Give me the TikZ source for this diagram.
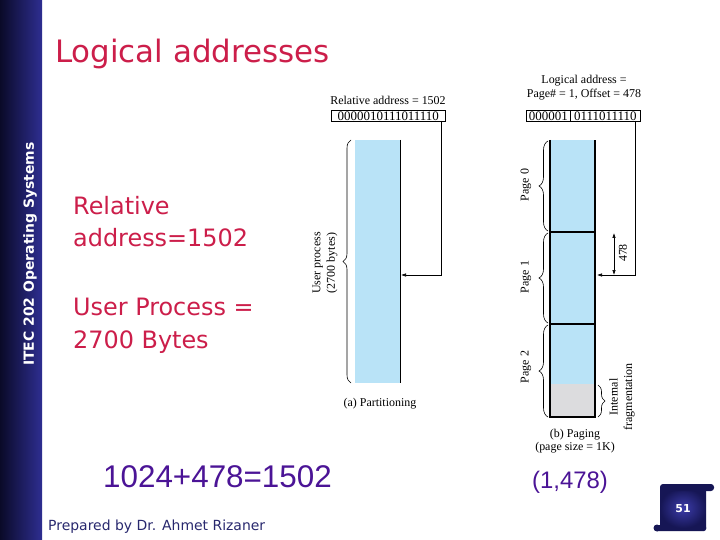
\documentclass[tikz,border=0pt]{standalone}
\usepackage{fontspec}
\setmainfont{Liberation Serif}
\newfontfamily\dv{DejaVu Sans}
\newfontfamily\ar{Liberation Sans}
\usetikzlibrary{arrows.meta,decorations.pathreplacing,shadings}
\definecolor{sideA}{RGB}{10,10,40}
\definecolor{sideB}{RGB}{46,46,145}
\definecolor{titlered}{RGB}{204,30,74}
\definecolor{purp}{RGB}{75,20,150}
\definecolor{navy}{RGB}{40,40,110}
\definecolor{lblue}{RGB}{185,227,247}
\definecolor{lgray}{RGB}{220,220,222}
\definecolor{scrollin}{RGB}{60,60,170}
\definecolor{scrollout}{RGB}{22,22,85}
\tikzset{
  figtxt/.style={inner sep=0pt, font=\fontsize{12}{13.5}\selectfont, align=center},
  bintxt/.style={draw, line width=0.6bp, inner sep=0pt, minimum height=11bp, font=\fontsize{13}{13}\selectfont, anchor=north west},
  bodytxt/.style={anchor=base west, inner sep=0pt, text=titlered, font=\dv\fontsize{24}{28}\selectfont},
  arr/.style={line width=0.6bp, -{Latex[length=5bp,width=3.5bp]}},
  dimarr/.style={line width=0.6bp, {Latex[length=5bp,width=3.5bp]}-{Latex[length=5bp,width=3.5bp]}},
  bracestyle/.style={decorate, decoration={brace, amplitude=#1}, line width=0.6bp},
  thickline/.style={line width=2bp}
}
\begin{document}
\begin{tikzpicture}[x=1bp,y=-1bp]
\useasboundingbox (0,0) rectangle (720,540);
\fill[white] (0,0) rectangle (720,540);
% sidebar
\shade[left color=sideA, right color=sideB] (0,0) rectangle (42,540);
\node[rotate=90, text=white, inner sep=0pt, font=\dv\bfseries\fontsize{14}{16}\selectfont] (side) at (30,254) {ITEC 202 Operating Systems};
% title
\node[anchor=base west, inner sep=0pt, text=titlered, font=\dv\fontsize{31}{36}\selectfont] (title) at (55,63) {Logical addresses};
% body text
\node[bodytxt] (rel1) at (73,215) {Relative};
\node[bodytxt] (rel2) at (73,247) {address=1502};
\node[bodytxt] (up1) at (73,315) {User Process =};
\node[bodytxt] (up2) at (73,348) {2700 Bytes};
\node[anchor=base west, inner sep=0pt, text=purp, font=\ar\fontsize{31.5}{36}\selectfont] (sum) at (103,487) {1024+478=1502};
\node[anchor=base west, inner sep=0pt, text=purp, font=\ar\fontsize{24}{28}\selectfont] (pair) at (532,488) {(1,478)};
\node[anchor=base west, inner sep=0pt, text=navy, font=\dv\fontsize{14}{16}\selectfont] (prep) at (48,530) {Prepared by Dr. Ahmet Rizaner};
% scroll icon
\fill[scrollout, rounded corners=2bp] (655,525) rectangle (706,531);
\fill[scrollout] (657,528) circle (3.5bp);
\shade[inner color=scrollin, outer color=scrollout] (660,488) rectangle (706,528);
\fill[scrollout, rounded corners=3bp] (660,484) rectangle (714,491);
\node[text=white, inner sep=0pt, font=\dv\bfseries\fontsize{11}{12}\selectfont] (pgno) at (683,509) {51};
% ---------- figure (a) ----------
\node[figtxt] (labA) at (388,100) {Relative address = 1502};
\node[bintxt, minimum width=114bp] (binA) at (331,110) {0000010111011110};
\fill[lblue] (355,140) rectangle (400,383);
\draw[line width=0.6bp] (400,140) -- (400,383);
\coordinate (aSrc) at (441,121);
\coordinate (aIn) at (401,275);
\draw[arr] (aSrc) |- (aIn);
\draw[bracestyle=8bp] (351,383) -- (351,140);
\node[figtxt, rotate=90, font=\fontsize{12}{14.5}\selectfont] (upA) at (325,263) {User process\\(2700 bytes)};
\node[figtxt] (capA) at (380,404) {(a) Partitioning};
% ---------- figure (b) ----------
\node[figtxt] (labB1) at (584,81) {Logical address =};
\node[figtxt] (labB2) at (584,95) {Page\# = 1, Offset = 478};
\node[bintxt, minimum width=44bp] (binB1) at (526,110) {000001};
\node[bintxt, minimum width=70bp] (binB2) at (570,110) {0111011110};
\fill[lblue] (550,140) rectangle (595,384);
\fill[lgray] (550,384) rectangle (595,417);
\draw[thickline] (550,140) -- (550,417) -- (595,417) -- (595,140);
\draw[thickline] (550,232) -- (595,232);
\draw[thickline] (550,324) -- (595,324);
\draw[bracestyle=9bp] (548,231) -- (548,141);
\draw[bracestyle=9bp] (548,323) -- (548,233);
\draw[bracestyle=9bp] (548,417) -- (548,325);
\node[figtxt, rotate=90] (pg0) at (526,185) {Page 0};
\node[figtxt, rotate=90] (pg1) at (526,277) {Page 1};
\node[figtxt, rotate=90] (pg2) at (526,367) {Page 2};
\draw[bracestyle=7bp] (598,385) -- (598,417);
\node[figtxt, rotate=90, font=\fontsize{12}{14.5}\selectfont] (frag) at (622,397) {Internal\\fragmentation};
\coordinate (bSrc) at (635,121);
\coordinate (bIn) at (597,275);
\draw[arr] (bSrc) |- (bIn);
\coordinate (dTop) at (614,233);
\coordinate (dBot) at (614,275);
\draw[dimarr] (dTop) -- (dBot);
\node[figtxt, rotate=90] (d478) at (623,253) {478};
\node[figtxt, font=\fontsize{12}{13}\selectfont] (capB) at (575,441) {(b) Paging\\(page size = 1K)};
\end{tikzpicture}
\end{document}
